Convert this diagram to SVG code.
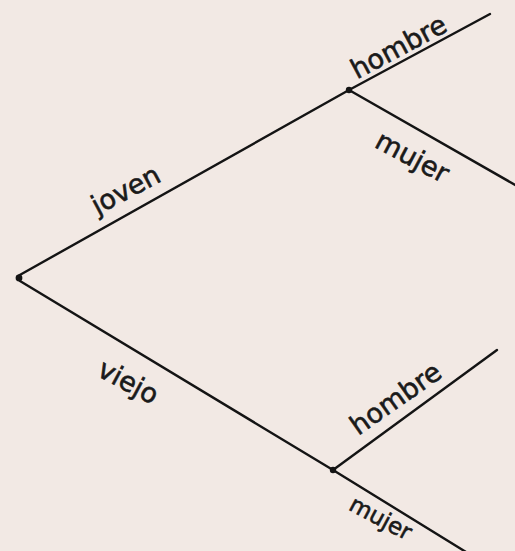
<svg xmlns="http://www.w3.org/2000/svg" width="515" height="551" viewBox="0 0 515 551">
<style>
.edge{stroke:#141414;stroke-width:2.4;fill:none;stroke-linecap:round}
.lbl{font-family:"DejaVu Sans",sans-serif;font-size:27px;fill:#1a1a1a;text-anchor:middle;stroke:#1a1a1a;stroke-width:0.6}
.dot{fill:#141414}
</style>
<rect width="515" height="551" fill="#f2e9e4"/>
<g id="connectors">
<line class="edge" x1="18" y1="276" x2="349" y2="90"/>
<line class="edge" x1="349" y1="90" x2="490" y2="14"/>
<line class="edge" x1="349" y1="90" x2="517" y2="186"/>
<line class="edge" x1="20" y1="281" x2="333" y2="470"/>
<line class="edge" x1="333" y1="470" x2="497" y2="350"/>
<line class="edge" x1="333" y1="470" x2="466" y2="552"/>
</g>
<g id="root"><circle class="dot" cx="19" cy="278" r="3.4"/></g>
<g id="joven"><circle class="dot" cx="349" cy="90" r="3.2"/><text class="lbl" transform="translate(130,198) rotate(-28)">joven</text></g>
<g id="viejo"><circle class="dot" cx="333" cy="470" r="3.2"/><text class="lbl" transform="translate(124,390) rotate(28)">viejo</text></g>
<g id="hombre1"><text class="lbl" transform="translate(403,55) rotate(-28)">hombre</text></g>
<g id="mujer1"><text class="lbl" transform="translate(408,165) rotate(28)">mujer</text></g>
<g id="hombre2"><text class="lbl" transform="translate(401,406) rotate(-35)">hombre</text></g>
<g id="mujer2"><text class="lbl" style="font-size:23px" transform="translate(377,525) rotate(28)">mujer</text></g>
</svg>
